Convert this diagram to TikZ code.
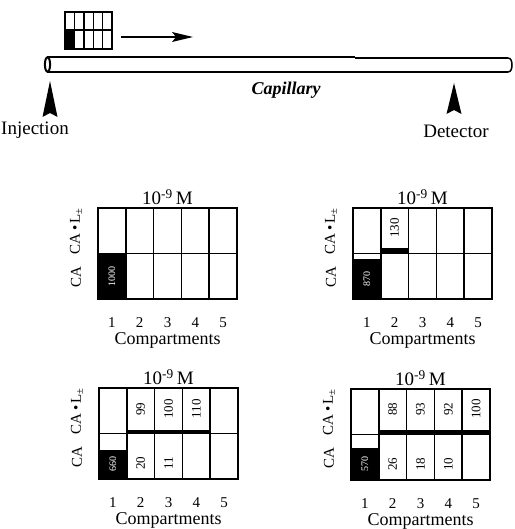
\documentclass[tikz,border=0pt]{standalone}
\usepackage{fontspec}
\setmainfont{Liberation Serif}
\tikzset{
  gridline/.style={line width=1.5pt},
  title/.style={font=\fontsize{19}{21}\selectfont, inner sep=0pt},
  rowlab/.style={font=\fontsize{15}{17}\selectfont, rotate=90, inner sep=0pt},
  colnum/.style={font=\fontsize{15}{17}\selectfont, inner sep=0pt},
  complab/.style={font=\fontsize{18}{20}\selectfont, inner sep=0pt},
  cellnum/.style={font=\fontsize{13}{14}\selectfont, rotate=90, inner sep=0pt},
  blacknum/.style={font=\fontsize{10}{11}\selectfont, rotate=90, inner sep=0pt, text=white},
  biglab/.style={font=\fontsize{19}{21}\selectfont, inner sep=0pt},
}
% panel frame: name, x, y
\newcommand\panelframe[3]{%
  \begin{scope}[shift={(#2,#3)}]
    \draw[gridline] (0,0) rectangle (139,91);
    \draw[gridline] (0,45.5) -- (139,45.5);
    \foreach \i in {1,...,4} \draw[gridline] (\i*27.8,0) -- (\i*27.8,91);
    \node[title] (#1-title) at (69.5,-11) {10\textsuperscript{-9}\,M};
    \node[rowlab] (#1-cal) at (-22,23) {CA\,•\,L\textsubscript{±}};
    \node[rowlab] (#1-ca) at (-22,69) {CA};
    \foreach \i in {1,...,5} \node[colnum] (#1-n\i) at ({(\i-0.5)*27.8},115) {\i};
    \node[complab] (#1-comp) at (69.5,132) {Compartments};
  \end{scope}}
\begin{document}
\begin{tikzpicture}[x=1pt,y=-1pt]
\useasboundingbox (0,0) rectangle (514,529);
% ---------- capillary ----------
\begin{scope}
  % mini grid
  \fill (65,30) rectangle (74.4,49);
  \draw[line width=1.4pt] (65,12) rectangle (112,49);
  \draw[line width=1.4pt] (65,30) -- (112,30);
  \foreach \i in {1,...,4} \draw[line width=1.4pt] (65+\i*9.4,12) -- (65+\i*9.4,49);
  % flow arrow
  \coordinate (fa) at (121,37);
  \coordinate (fb) at (193,37);
  \draw[line width=1.3pt] (fa) -- (176,37);
  \fill (fb) -- (172,32) -- (176,37) -- (172,42) -- cycle;
  % tube
  \draw[line width=1.5pt] (47,57) -- (355,57);
  \draw[line width=1.5pt] (355,58) -- (508,58);
  \draw[line width=1.5pt] (47,72) -- (508,72);
  \draw[line width=1.5pt] (508,58) to[out=0,in=90] (512,65) to[out=-90,in=0] (508,72);
  \draw[line width=2pt, fill=white] (47.5,64.5) ellipse [x radius=2.6, y radius=7.2];
  \node[font=\bfseries\itshape\fontsize{18}{20}\selectfont, inner sep=0pt] (cap) at (286,90) {Capillary};
  % injection / detector arrows
  \fill (50,81) -- (57.5,117) -- (50,113) -- (42.5,117) -- cycle;
  \fill (454,83) -- (461.5,114) -- (454,110) -- (446.5,114) -- cycle;
  \node[biglab] (inj) at (35,130) {Injection};
  \node[biglab] (det) at (456,131) {Detector};
\end{scope}
% ---------- panel A ----------
\begin{scope}[shift={(98,208)}]
  \fill (0,45.5) rectangle (27.8,91);
\end{scope}
\panelframe{A}{98}{208}
\begin{scope}[shift={(98,208)}]
  \node[blacknum] (A-b1) at (13.9,68) {1000};
\end{scope}
% ---------- panel B ----------
\begin{scope}[shift={(353,208)}]
  \fill (0,51) rectangle (27.8,91);
  \fill (27.8,39.5) rectangle (55.6,45.5);
\end{scope}
\panelframe{B}{353}{208}
\begin{scope}[shift={(353,208)}]
  \node[blacknum] (B-b1) at (13.9,71) {870};
  \node[cellnum] (B-u2) at (41.7,20) {130};
\end{scope}
% ---------- panel C ----------
\begin{scope}[shift={(99,388)}]
  \fill (0,62) rectangle (27.8,91);
  \fill (27.8,41.5) rectangle (111.2,46);
\end{scope}
\panelframe{C}{99}{388}
\begin{scope}[shift={(99,388)}]
  \node[blacknum] (C-b1) at (13.9,76) {660};
  \node[cellnum] (C-u2) at (41.7,21) {99};
  \node[cellnum] (C-u3) at (69.5,21) {100};
  \node[cellnum] (C-u4) at (97.3,21) {110};
  \node[cellnum] (C-l2) at (41.7,75) {20};
  \node[cellnum] (C-l3) at (69.5,75) {11};
\end{scope}
% ---------- panel D ----------
\begin{scope}[shift={(351,389)}]
  \fill (0,59) rectangle (27.8,91);
  \fill (27.8,41) rectangle (139,46);
\end{scope}
\panelframe{D}{351}{389}
\begin{scope}[shift={(351,389)}]
  \node[blacknum] (D-b1) at (13.9,75) {570};
  \node[cellnum] (D-u2) at (41.7,20) {88};
  \node[cellnum] (D-u3) at (69.5,20) {93};
  \node[cellnum] (D-u4) at (97.3,20) {92};
  \node[cellnum] (D-u5) at (125.1,20) {100};
  \node[cellnum] (D-l2) at (41.7,75) {26};
  \node[cellnum] (D-l3) at (69.5,75) {18};
  \node[cellnum] (D-l4) at (97.3,75) {10};
\end{scope}
\end{tikzpicture}
\end{document}
